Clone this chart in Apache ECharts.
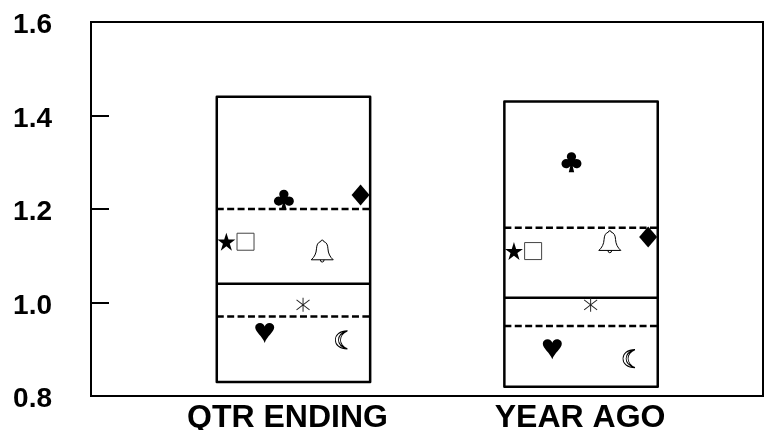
<!DOCTYPE html>
<html>
<head>
<meta charset="utf-8">
<style>
    html,body{margin:0;padding:0;background:#fff;}
    #chart{width:764px;height:430px;}
</style>
<script src="https://cdn.jsdelivr.net/npm/echarts@6/dist/echarts.min.js"></script>
</head>
<body>
<div id="chart"></div>
<script>
// one entry per period
const categories=["QTR ENDING","YEAR AGO"];
const yTicks=[0.8,1.0,1.2,1.4,1.6];

// box levels
const boxHigh=[1.44,1.43];
const boxUpper=[1.20,1.16];
const boxMiddle=[1.04,1.01];
const boxLower=[0.97,0.95];
const boxLow=[0.83,0.82];

// the markers inside each box
const starValues=[1.13,1.11];
const squareValues=[1.13,1.11];
const heartValues=[0.935,0.90];
const clubValues=[1.22,1.30];
const asteriskValues=[0.995,0.995];
const bellValues=[1.11,1.13];
const moonValues=[0.92,0.88];
const diamondValues=[1.23,1.14];

// x axis counts marker slots: 8 slots in a box, next box starts 15 slots on
const boxCenters=[4.5,19.5];
const labelCenters=[4.19,19.45];
const boxHalfWidth=4;

const clubPath="path://M50 0A22 22 0 0 1 68 35A23 23 0 1 1 56 70L63 100L37 100L44 70A23 23 0 1 1 32 35A22 22 0 0 1 50 0Z";
const heartPath="path://M50 100C40 68 3 46 3 22C3 8 14 0 27 0C38 0 46 7 50 18C54 7 62 0 73 0C86 0 97 8 97 22C97 46 60 68 50 100Z";
const bellPath="path://M44 8A6 6 0 1 1 56 8C70 12 74 24 75 40C76 60 84 76 98 88L2 88C16 76 24 60 25 40C26 24 30 12 44 8ZM42 88A8 10 0 0 0 58 88";
const moonPath="path://M85 0C40 10 22 32 22 50C22 68 40 90 85 100C30 100 0 78 0 50C0 22 30 0 85 0ZM85 0C55 8 36 30 36 50C36 70 55 92 85 100";
const asteriskPath="path://M50 0L50 100M12 14L88 86M12 86L88 14";

const markers=[
    {name:"star",values:starValues,slot:1,symbol:"path://M50 0L62 36L100 36L69 58L81 95L50 72L19 95L31 58L0 36L38 36Z",size:[18,18],color:"#000",border:"#000",borderWidth:0},
    {name:"square",values:squareValues,slot:2,symbol:"rect",size:[17,17],color:"#fff",border:"#444",borderWidth:1},
    {name:"heart",values:heartValues,slot:3,symbol:heartPath,size:[19,20],color:"#000",border:"#000",borderWidth:0},
    {name:"club",values:clubValues,slot:4,symbol:clubPath,size:[20,20],color:"#000",border:"#000",borderWidth:0},
    {name:"asterisk",values:asteriskValues,slot:5,symbol:asteriskPath,size:[13,14],color:"none",border:"#222",borderWidth:1},
    {name:"bell",values:bellValues,slot:6,symbol:bellPath,size:[22,22],color:"#fff",border:"#000",borderWidth:1},
    {name:"moon",values:moonValues,slot:7,symbol:moonPath,size:[12,18],color:"#fff",border:"#000",borderWidth:1},
    {name:"diamond",values:diamondValues,slot:8,symbol:"diamond",size:[18,21],color:"#000",border:"#000",borderWidth:0}
];

const myChart=echarts.init(document.getElementById("chart"),null,{renderer:"canvas"});

function renderBox(params,api){
    const center=api.value(0);
    const left=center-boxHalfWidth;
    const right=center+boxHalfWidth;
    const level=(i,dash)=>{
        const a=api.coord([left,api.value(i)]);
        const b=api.coord([right,api.value(i)]);
        return {
            type:"line",
            shape:{x1:a[0],y1:a[1],x2:b[0],y2:b[1]},
            style:{stroke:"#000",lineWidth:2.5,lineDash:dash}
        };
    };
    const topLeft=api.coord([left,api.value(1)]);
    const bottomRight=api.coord([right,api.value(5)]);
    return {
        type:"group",
        children:[
            {
                type:"rect",
                shape:{x:topLeft[0],y:topLeft[1],width:bottomRight[0]-topLeft[0],height:bottomRight[1]-topLeft[1]},
                style:{fill:"#fff",stroke:"#000",lineWidth:2.5,lineJoin:"round"}
            },
            level(2,[7,3.4]),
            level(3,null),
            level(4,[7,3.4])
        ]
    };
}

const series=[{
    type:"custom",
    name:"box",
    silent:true,
    renderItem:renderBox,
    encode:{x:0,y:[1,2,3,4,5]},
    data:boxCenters.map((c,i)=>[c,boxHigh[i],boxUpper[i],boxMiddle[i],boxLower[i],boxLow[i]]),
    z:1
}];

markers.forEach((m)=>{
    series.push({
        type:"scatter",
        name:m.name,
        silent:true,
        symbol:m.symbol,
        symbolSize:m.size,
        symbolKeepAspect:false,
        itemStyle:{color:m.color,borderColor:m.border,borderWidth:m.borderWidth,opacity:1},
        data:m.values.map((v,i)=>[m.slot+(boxCenters[i]-boxCenters[0]),v]),
        z:3
    });
});

const option={
    animation:false,
    backgroundColor:"#fff",
    grid:{left:91,top:22,width:672,height:374,outerBoundsMode:"none",show:true,borderColor:"#000",borderWidth:2,backgroundColor:"transparent"},
    xAxis:{
        type:"value",
        min:-6.06,
        max:28.99,
        splitLine:{show:false},
        axisLine:{show:true,onZero:false,lineStyle:{color:"#000",width:2}},
        axisTick:{show:false},
        axisLabel:{
            customValues:labelCenters,
            formatter:(value)=>categories[labelCenters.indexOf(value)]||"",
            color:"#000",
            fontFamily:"Liberation Sans",
            fontWeight:"bold",
            fontSize:32,
            margin:6
        }
    },
    yAxis:{
        type:"value",
        min:yTicks[0],
        max:yTicks[yTicks.length-1],
        interval:0.2,
        splitLine:{show:false},
        axisLine:{show:true,onZero:false,lineStyle:{color:"#000",width:2}},
        axisTick:{show:true,inside:true,length:18,lineStyle:{color:"#000",width:2}},
        axisLabel:{
            color:"#000",
            fontFamily:"Liberation Sans",
            fontWeight:"bold",
            fontSize:28,
            margin:39,
            verticalAlign:"top",
            lineHeight:7,
            formatter:(value)=>value.toFixed(1)
        }
    },
    series:series
};
myChart.setOption(option);
</script>
</body>
</html>
